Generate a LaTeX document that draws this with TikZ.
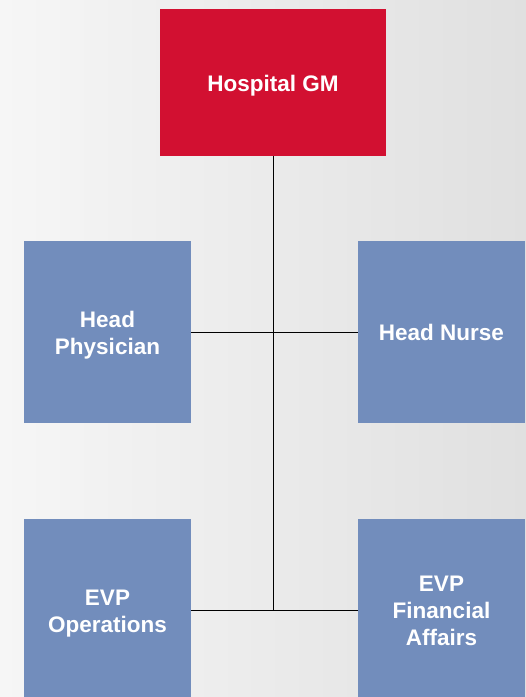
\documentclass[tikz,border=0pt]{standalone}
\usepackage{fontspec}
\setmainfont{Liberation Sans}
\definecolor{gmred}{RGB}{210,16,49}
\definecolor{staffblue}{RGB}{114,141,188}
\definecolor{bgleft}{RGB}{246,246,246}
\definecolor{bgright}{RGB}{224,224,224}
\usetikzlibrary{positioning}
% text sits a little below the box centre
\newcommand{\boxtext}[1]{\raisebox{-3.5pt}[\height][\depth]{\begin{tabular}{@{}c@{}}#1\end{tabular}}}

\begin{document}
\begin{tikzpicture}[
    x=1pt, y=-1pt,
    box/.style={minimum width=167pt, minimum height=182pt, inner sep=2pt,
      font=\fontsize{22.5}{27}\selectfont\bfseries, text=white},
    link/.style={black, line width=1pt},
  ]
    \clip (0,0) rectangle (526,697);
    \shade[left color=bgleft, right color=bgright] (0,0) rectangle (526,697);

    \node[box, fill=gmred, minimum width=226pt, minimum height=147pt] (gm) at (273, 82.5) {\boxtext{Hospital GM}};

    \node[box, fill=staffblue] (physician) at (107.5, 332) {\boxtext{Head\\Physician}};
    \node[box, fill=staffblue] (nurse) at (441.5, 332) {\boxtext{Head Nurse}};

    \node[box, fill=staffblue] (ops) at (107.5, 610) {\boxtext{EVP\\Operations}};
    \node[box, fill=staffblue] (finance) at (441.5, 610) {\boxtext{EVP\\Financial\\Affairs}};

    \draw[link] (gm.south) -- (gm.south |- ops.east);
    \draw[link] (physician.east) -- (nurse.west);
    \draw[link] (ops.east) -- (finance.west);
  \end{tikzpicture}
\end{document}
